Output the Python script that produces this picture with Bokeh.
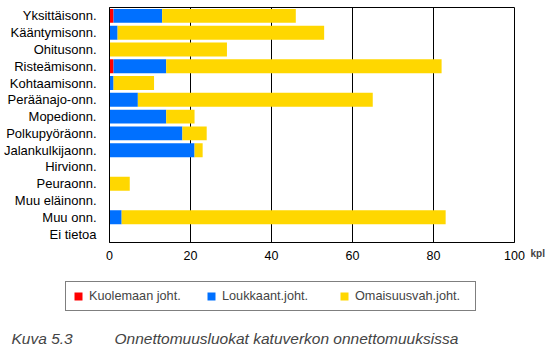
from bokeh.plotting import figure
from bokeh.models import Legend, LegendItem, Label, FactorRange, Title
from bokeh.layouts import column, row
from bokeh.embed import file_html
from bokeh.resources import INLINE

categories = ["Yksittäisonn.", "Kääntymisonn.", "Ohitusonn.", "Risteämisonn.",
              "Kohtaamisonn.", "Peräänajo-onn.", "Mopedionn.", "Polkupyöräonn.",
              "Jalankulkijaonn.", "Hirvionn.", "Peuraonn.", "Muu eläinonn.",
              "Muu onn.", "Ei tietoa"]
kuolemaan = [1, 0, 0, 1, 0, 0, 0, 0, 0, 0, 0, 0, 0, 0]
loukkaant = [12, 2, 0, 13, 1, 7, 14, 18, 21, 0, 0, 0, 3, 0]
omaisuus = [33, 51, 29, 68, 10, 58, 7, 6, 2, 0, 5, 0, 80, 0]
series_names = ["Kuolemaan joht.", "Loukkaant.joht.", "Omaisuusvah.joht."]
colors = ["#ff0000", "#0070ff", "#ffd700"]
x_ticks = [0, 20, 40, 60, 80, 100]
unit_label = "kpl"
caption_num = "Kuva 5.3"
caption_text = "Onnettomuusluokat katuverkon onnettomuuksissa"

FONT = "Liberation Sans"

# main chart
p = figure(width=526, height=270, output_backend="svg", toolbar_location=None,
           y_range=FactorRange(factors=list(reversed(categories)), range_padding=0),
           x_range=(0, 100),
           min_border_left=107, min_border_right=12, min_border_top=7, min_border_bottom=28)

data = dict(cat=categories, k=kuolemaan, l=loukkaant, o=omaisuus)
stack = p.hbar_stack(["k", "l", "o"], y="cat", height=0.83, color=colors,
                     line_color=None, source=data)

p.xaxis.ticker = x_ticks
p.xaxis.major_tick_line_color = None
p.xaxis.minor_tick_line_color = None
p.yaxis.major_tick_line_color = None
p.yaxis.minor_tick_line_color = None
p.xaxis.axis_line_color = "black"
p.yaxis.axis_line_color = "black"
p.xaxis.major_label_text_font = FONT
p.yaxis.major_label_text_font = FONT
p.xaxis.major_label_text_font_size = "12.5px"
p.yaxis.major_label_text_font_size = "13px"
p.xaxis.major_label_text_color = "black"
p.yaxis.major_label_text_color = "black"
p.xaxis.major_label_standoff = 2
p.yaxis.major_label_standoff = 7
p.xgrid.grid_line_color = "black"
p.xgrid.grid_line_alpha = 1
p.ygrid.grid_line_color = None
p.outline_line_color = "black"
p.outline_line_alpha = 1
p.background_fill_color = "white"
p.border_fill_color = "white"

# unit label to the right of the x axis
p3 = figure(width=30, height=270, output_backend="svg", toolbar_location=None,
            x_axis_type=None, y_axis_type=None, min_border=0,
            x_range=(0, 1), y_range=(0, 1))
p3.outline_line_color = None
p3.add_layout(Title(text=unit_label, align="left", offset=4, standoff=6,
                    text_font=FONT, text_font_style="bold", text_font_size="10px"),
              "below")

# legend and caption
p2 = figure(width=556, height=82, output_backend="svg", toolbar_location=None,
            x_axis_type=None, y_axis_type=None, min_border=0,
            x_range=(0, 1), y_range=(0, 1))
p2.outline_line_color = None
dummy = [p2.hbar(y=[-10], right=[-10], left=[-11], height=1, color=c, line_color=None)
         for c in colors]
legend = Legend(items=[LegendItem(label=n, renderers=[r]) for n, r in zip(series_names, dummy)],
                orientation="horizontal", location=(65, 41),
                border_line_color="black", border_line_width=1,
                label_text_font=FONT, label_text_font_size="12.7px",
                glyph_width=10, glyph_height=10, label_standoff=6,
                label_width=113, spacing=4, padding=7, margin=0,
                label_height=12)
p2.add_layout(legend, "center")
p2.add_layout(Label(x=11, y=14, x_units="screen", y_units="screen", text=caption_num,
                    text_font=FONT, text_font_style="italic", text_font_size="15.5px",
                    text_baseline="middle"))
p2.add_layout(Label(x=114, y=14, x_units="screen", y_units="screen", text=caption_text,
                    text_font=FONT, text_font_style="italic", text_font_size="15.5px",
                    text_baseline="middle"))

layout = column(row(p, p3, spacing=0), p2, spacing=0)
open("out.html", "w").write(file_html(layout, INLINE))
